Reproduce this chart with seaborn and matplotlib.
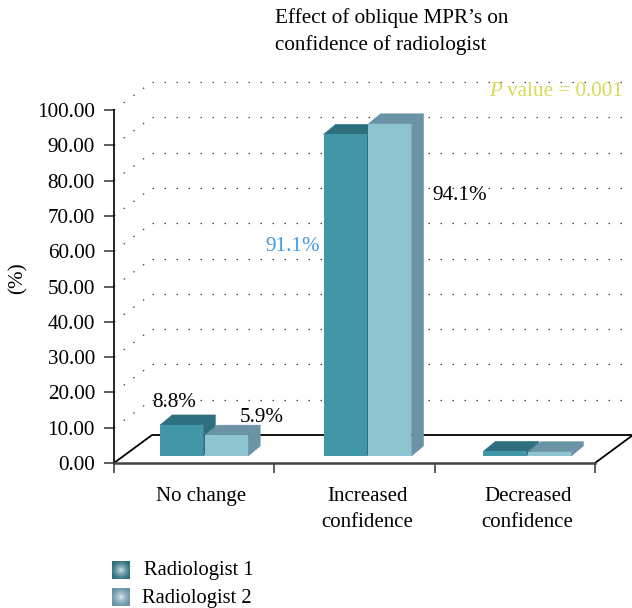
import numpy as np
import pandas as pd
import matplotlib
matplotlib.use('Agg')
import matplotlib.pyplot as plt
import seaborn as sns
from matplotlib.patches import Polygon

categories = ['No change', 'Increased\nconfidence', 'Decreased\nconfidence']
readers = ['Radiologist 1', 'Radiologist 2']
radiologist_1 = [8.8, 91.1, 1.3]
radiologist_2 = [5.9, 94.1, 1.2]
bar_labels_1 = ['8.8%', '91.1%', None]
bar_labels_2 = ['5.9%', '94.1%', None]
y_ticks = [0, 10, 20, 30, 40, 50, 60, 70, 80, 90, 100]

W, H = 632, 608
FS = 15.2
front = ['#4196a8', '#8cc4d0']
shade = ['#2e6f7e', '#6a93a6']

df = pd.DataFrame({
    'category': categories * 2,
    'reader': [readers[0]] * 3 + [readers[1]] * 3,
    'value': radiologist_1 + radiologist_2,
})

sns.set_style('ticks')
plt.rcParams['font.family'] = ['Liberation Serif', 'DejaVu Serif']
plt.rcParams['text.color'] = 'black'
plt.rcParams['xtick.labelcolor'] = 'black'
plt.rcParams['ytick.labelcolor'] = 'black'

fig = plt.figure(figsize=(W / 100, H / 100), dpi=100)
ax = fig.add_axes([114 / W, (H - 463) / H, 481 / W, 353 / H])

sns.barplot(data=df, x='category', y='value', hue='reader', palette=front, saturation=1,
            width=0.56, gap=0.04, legend=False, ax=ax, zorder=5, linewidth=0, edgecolor='none')
ax.set_xlim(-0.5, 2.5)
ax.set_ylim(0, 100)

# pixel -> data units
px = 3 / 481
py = 100 / 353


def fig_xy(x, y):
    return x / W, 1 - y / H


# floor and back wall
depth_x, depth_y = 38 * px, 28 * py
ax.plot([-0.5, -0.5 + depth_x, 2.5 + depth_x, 2.5], [0, depth_y, depth_y, 0],
        color='black', lw=1.3, clip_on=False, zorder=1)
for v in y_ticks[1:]:
    ax.plot([-0.5 + depth_x, 2.5 + depth_x], [v + depth_y, v + depth_y], color='#444444', lw=0.9,
            ls=(0, (1.2, 8.4)), clip_on=False, zorder=1)
    ax.plot([-0.5, -0.5 + depth_x], [v, v + depth_y], color='#444444', lw=0.9,
            ls=(0, (1.2, 8.4)), clip_on=False, zorder=1)

# bars stand a little way back on the floor, then get top and side faces
base = 7 * py
shifts = [10, 13, 12.5, 10, 13, 12.5]
dx, dy = 12 * px, 10 * py
for i, bar in enumerate(ax.patches):
    k = i // 3
    bar.set_x(bar.get_x() + shifts[i] * px)
    bar.set_y(base)
    bar.set_zorder(5 + k)
    x0, x1 = bar.get_x(), bar.get_x() + bar.get_width()
    y1 = base + bar.get_height()
    top = [(x0, y1), (x1, y1), (x1 + dx, y1 + dy), (x0 + dx, y1 + dy)]
    side = [(x1, base), (x1 + dx, base + dy), (x1 + dx, y1 + dy), (x1, y1)]
    for pts in (side, top):
        ax.add_patch(Polygon(pts, closed=True, facecolor=shade[k], edgecolor=shade[k], lw=0.4,
                             clip_on=False, zorder=4 + k))

# value labels
label_offsets = [(-8, 22), (-52, -112), None, (35, 18), (70, -72), None]
label_colors = ['black', '#3d9be0', None, 'black', 'black', None]
for bar, txt, off, col in zip(ax.patches, bar_labels_1 + bar_labels_2, label_offsets, label_colors):
    if txt is None:
        continue
    ax.annotate(txt, (bar.get_x() + bar.get_width() / 2, bar.get_y() + bar.get_height()),
                xytext=off, textcoords='offset pixels', ha='center', va='center',
                fontsize=FS, color=col, annotation_clip=False, zorder=10)

# axes
sns.despine(ax=ax)
ax.spines['left'].set_linewidth(1.2)
ax.spines['bottom'].set_linewidth(1.8)
ax.spines['bottom'].set_color('#444444')
ax.spines['left'].set_color('black')
ax.set_yticks(y_ticks)
ax.set_yticklabels([f'{v:.2f}' for v in y_ticks], fontsize=FS)
ax.tick_params(axis='y', length=7.2, width=1.1, pad=6.5, color='#333333')
ax.set_xticks([-0.5, 0.5, 1.5, 2.5])
ax.set_xticklabels([])
ax.tick_params(axis='x', which='major', length=7.2, width=1.1, color='#333333')
ax.set_xticks([0.04, 1.08, 2.08], minor=True)
ax.set_xticklabels(categories, minor=True, fontsize=15, linespacing=1.5)
ax.tick_params(axis='x', which='minor', length=0, pad=17.5)
ax.set_xlabel('')
ax.set_ylabel('')
fig.text(*fig_xy(18, 278), '(%)', rotation=90, ha='center', va='center', fontsize=FS)

# title
fig.text(*fig_xy(275, 18.5), 'Effect of oblique MPR’s on', fontsize=FS, ha='left', va='center')
fig.text(*fig_xy(275, 45), 'confidence of radiologist', fontsize=FS, ha='left', va='center')

# p value
fig.text(*fig_xy(489, 92), 'P', fontsize=FS, style='italic', color='#d8da55', ha='left', va='center')
fig.text(*fig_xy(507, 92), 'value = 0.001', fontsize=FS, color='#d8da55', ha='left', va='center')

# legend
yy, xx = np.mgrid[-1:1:24j, -1:1:24j]
r = np.clip(np.sqrt(xx ** 2 + yy ** 2) / 1.1, 0, 1) ** 0.6
for k, (top_px, text_x) in enumerate([(561, 144), (588, 142)]):
    c0 = np.array(matplotlib.colors.to_rgb(shade[k]))
    img = (1 - r[..., None]) * np.array([0.95, 0.98, 0.98]) + r[..., None] * c0
    lax = fig.add_axes([112 / W, 1 - (top_px + 18) / H, 18 / W, 18 / H])
    lax.imshow(img, interpolation='bilinear', aspect='auto')
    lax.axis('off')
    fig.text(*fig_xy(text_x, top_px + 10), readers[k], fontsize=14.8, ha='left', va='center')

fig.savefig('out.png', dpi=100, facecolor='white')
